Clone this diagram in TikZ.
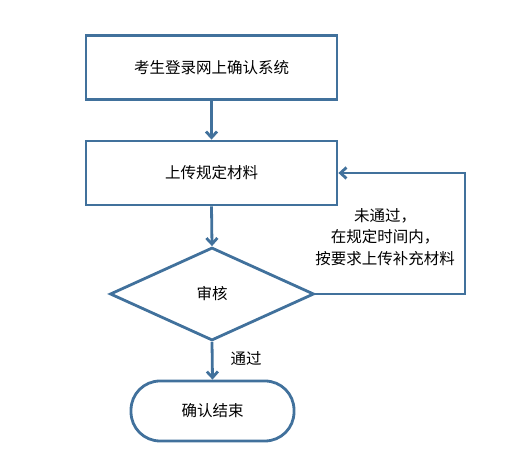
\documentclass[tikz,border=0pt]{standalone}
\usepackage{fontspec}
\usepackage{xcolor}
\newfontfamily\cjk{Noto Sans CJK SC}
\usetikzlibrary{shapes.geometric,arrows.meta}
\definecolor{flowblue}{HTML}{41719C}

\begin{document}
\begin{tikzpicture}[x=1pt, y=1pt,
  font=\cjk\fontsize{15.5}{21.5}\selectfont,
  stepbox/.style={draw=flowblue, line width=2.8pt, fill=white,
                  minimum width=251pt, minimum height=64pt},
  checkbox/.style={draw=flowblue, line width=2.8pt, diamond, inner sep=0pt,
                   minimum width=204pt, minimum height=93pt},
  endbox/.style={draw=flowblue, line width=2.8pt, rounded corners=29pt,
                 minimum width=163pt, minimum height=60pt},
  flow/.style={draw=flowblue, line width=2.8pt,
               -{Straight Barb[length=6pt, width=11pt, line width=2.8pt]}}]
\useasboundingbox (0,0) rectangle (508,470);

\node[stepbox] (login) at (211.5,402.5) {考生登录网上确认系统};
\node[stepbox] (upload) at (211.5,297) {上传规定材料};
\node[checkbox] (review) at (212,176) {审核};
\node[endbox] (done) at (212.5,59) {确认结束};

\coordinate (turn) at (465,297);

\draw[flow] (login.south) -- (upload.north);
\draw[flow] (upload.south) -- (review.north);
\draw[flow] (review.south) -- (done.north);
\draw[flow] (review.east) -| (turn) -- (upload.east);

\node[align=center] (retry) at (385,233) {未通过，\\在规定时间内，\\按要求上传补充材料};
\node (pass) at (246,111) {通过};
\end{tikzpicture}
\end{document}
